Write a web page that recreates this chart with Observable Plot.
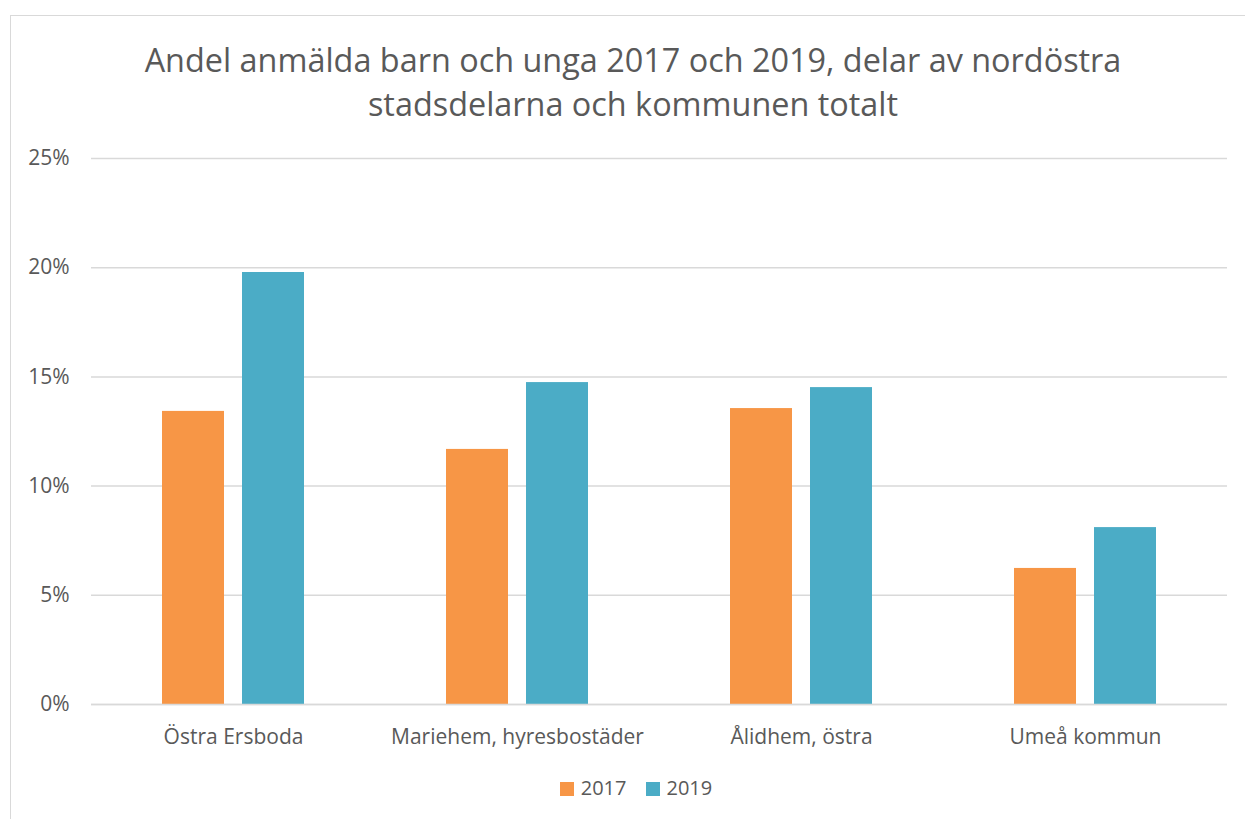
<!DOCTYPE html>
<html>
<head>
<meta charset="utf-8">
<script src="https://cdn.jsdelivr.net/npm/d3@7"></script>
<script src="https://cdn.jsdelivr.net/npm/@observablehq/plot@0.6"></script>
<style>
  html, body { margin: 0; padding: 0; background: #fff; width: 1245px; height: 819px; overflow: hidden; }
  body { font-family: "Open Sans", sans-serif; color: #595959; position: relative; }
  #frame { position: absolute; left: 10px; top: 15px; width: 1260px; height: 840px; border: 1px solid #d9d9d9; box-sizing: border-box; }
  #title { position: absolute; left: 0; top: 37px; width: 1266px; text-align: center; font-size: 32.4px; line-height: 44px; color: #595959; }
  #chart { position: absolute; left: 0; top: 140px; }
  #legend { position: absolute; left: 0; top: 774px; width: 1272px; text-align: center; font-size: 20px; color: #595959; }
  .sw { display: inline-block; width: 14px; height: 14px; margin-right: 7px; vertical-align: -1px; }
  .item { display: inline-block; margin: 0 9.5px; }
</style>
</head>
<body>
<div id="frame"></div>
<div id="title">Andel anmälda barn och unga 2017 och 2019, delar av nordöstra<br>stadsdelarna och kommunen totalt</div>
<div id="chart"></div>
<div id="legend"></div>
<script>
const categories = ["Östra Ersboda", "Mariehem, hyresbostäder", "Ålidhem, östra", "Umeå kommun"];
const years = ["2017", "2019"];
const values2017 = [0.1342, 0.1168, 0.1355, 0.0623];
const values2019 = [0.1978, 0.1474, 0.1451, 0.0810];
const yTicks = [0, 0.05, 0.10, 0.15, 0.20, 0.25];
const colors = ["#F79646", "#4BACC6"];

const rows = [];
categories.forEach((c, i) => {
  rows.push({category: c, year: years[0], value: values2017[i]});
  rows.push({category: c, year: years[1], value: values2019[i]});
});

const chart = Plot.plot({
  width: 1245,
  height: 614,
  marginLeft: 90,
  marginRight: 17,
  marginTop: 18,
  marginBottom: 50,
  style: {fontFamily: "'Open Sans', sans-serif", fontSize: "21px", color: "#595959", background: "transparent"},
  fx: {domain: categories, paddingInner: 0, paddingOuter: 0, label: null, axis: "bottom", tickSize: 0, tickPadding: 25},
  x: {domain: years, paddingInner: 0.222, paddingOuter: 0.867, axis: null},
  y: {domain: [0, 0.25], ticks: yTicks, tickFormat: d => Math.round(d * 100) + "%", tickSize: 0, tickPadding: 22, label: null},
  color: {domain: years, range: colors},
  marks: [
    Plot.ruleY(yTicks, {stroke: "#d9d9d9", strokeWidth: 1.5}),
    Plot.barY(rows, {fx: "category", x: "year", y: "value", fill: "year"}),
    Plot.ruleY([0], {stroke: "#d9d9d9", strokeWidth: 1.5})
  ]
});
document.getElementById("chart").appendChild(chart);

const legend = document.getElementById("legend");
years.forEach((y, i) => {
  const item = document.createElement("span");
  item.className = "item";
  const sw = document.createElement("span");
  sw.className = "sw";
  sw.style.background = colors[i];
  item.appendChild(sw);
  item.appendChild(document.createTextNode(y));
  legend.appendChild(item);
});
</script>
</body>
</html>
